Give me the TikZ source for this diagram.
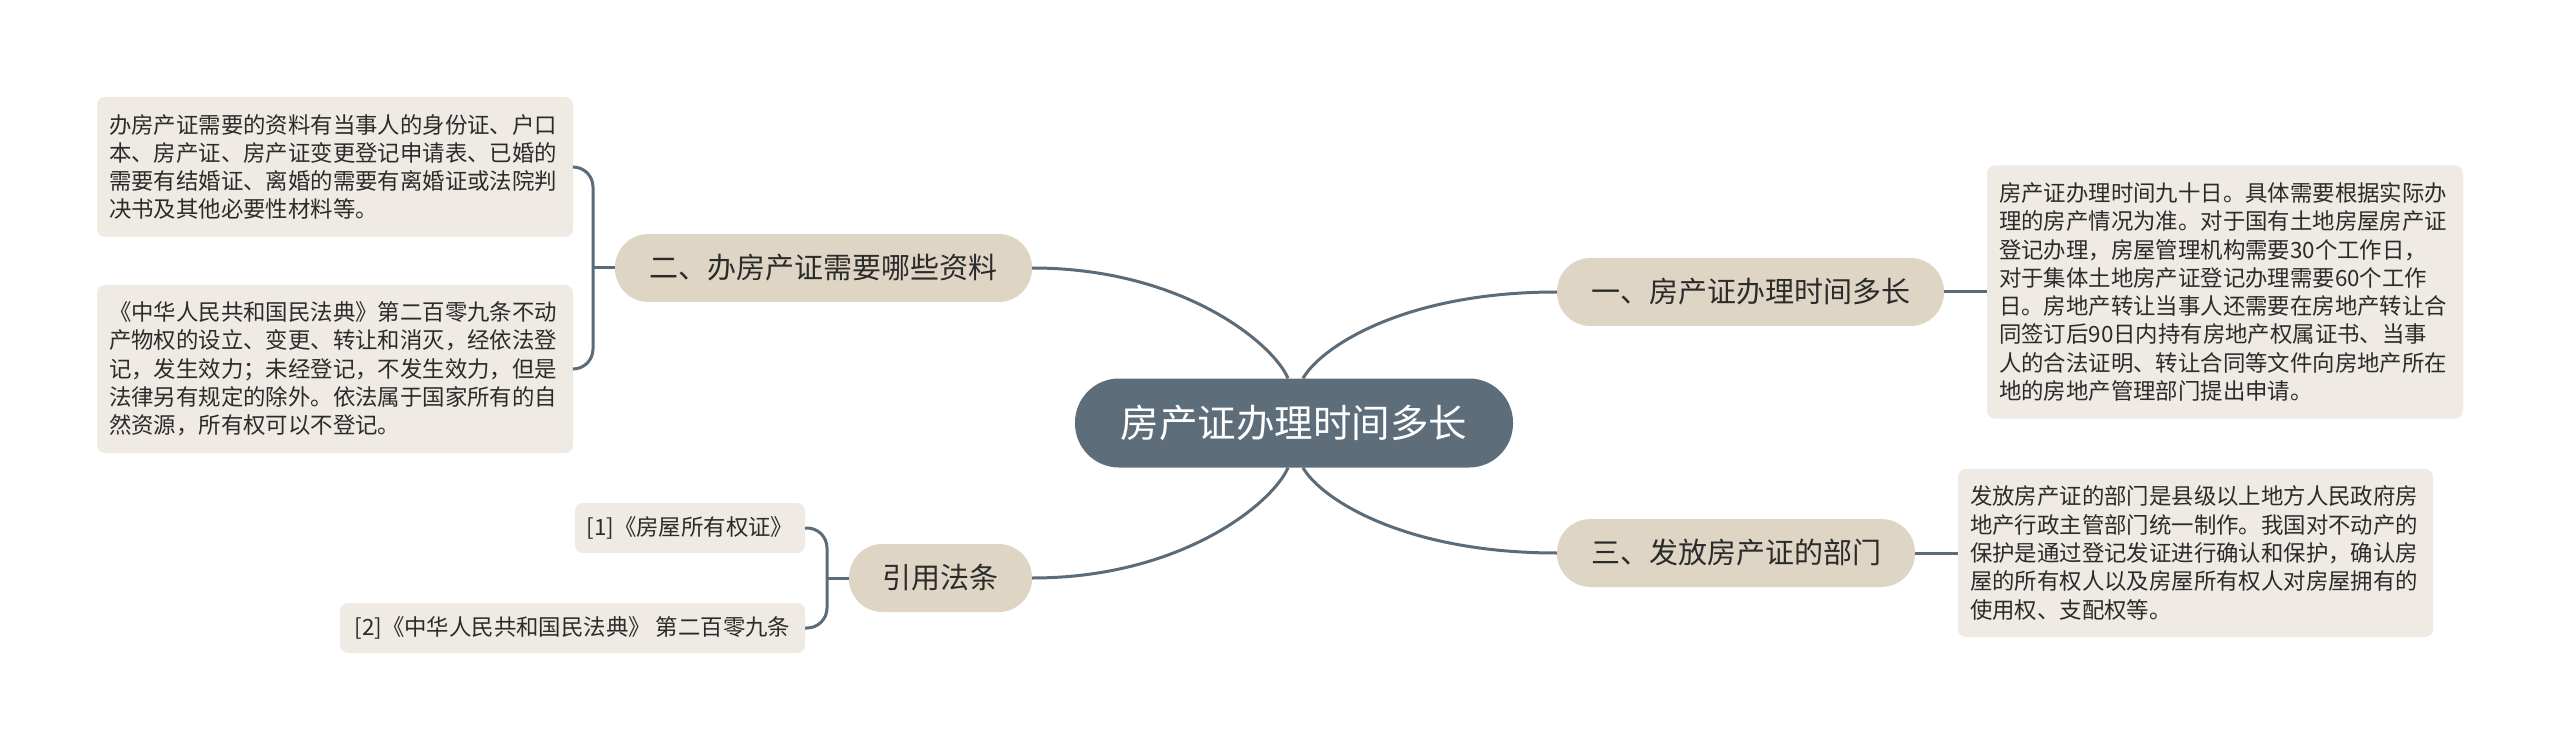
\documentclass[tikz,border=0pt]{standalone}
\usepackage{fontspec}
\newfontfamily\cjk{Noto Sans CJK SC}
\definecolor{centerfill}{HTML}{5D6D7A}
\definecolor{branchfill}{HTML}{DFD5C5}
\definecolor{leaffill}{HTML}{EFEBE4}
\definecolor{linecol}{HTML}{5B6B78}
\definecolor{txt}{HTML}{2B2B2B}
\begin{document}
\begin{tikzpicture}[x=1pt,y=-1pt,
 conn/.style={draw=linecol, line width=3pt},
 centernode/.style={fill=centerfill, rounded corners=44pt, minimum width=438pt, minimum height=89pt, inner sep=0pt, text=white, font=\cjk\fontsize{38.5}{44}\selectfont},
 branch/.style={fill=branchfill, rounded corners=33.5pt, minimum height=68pt, inner sep=0pt, text=txt, font=\cjk\fontsize{29}{34}\selectfont},
 leaf/.style={fill=leaffill, rounded corners=8pt, inner sep=0pt, text=txt, align=left, font=\cjk\fontsize{22.4}{28.3}\selectfont},
 refleaf/.style={fill=leaffill, rounded corners=8pt, inner sep=0pt, text=txt, minimum height=50pt, font=\cjk\fontsize{22.4}{28.3}\selectfont},
]
\fill[white] (0,0) rectangle (2560,751);
\useasboundingbox (0,0) rectangle (2560,751);

\node[centernode] (C) at (1294,423) {房产证办理时间多长};

\node[branch, minimum width=387pt] (B1) at (1750.5,292) {一、房产证办理时间多长};
\node[branch, minimum width=417pt] (B2) at (823.5,268) {二、办房产证需要哪些资料};
\node[branch, minimum width=358pt] (B3) at (1736,553) {三、发放房产证的部门};
\node[branch, minimum width=183pt] (B4) at (940.5,578) {引用法条};

\node[leaf, text width=452pt, minimum width=476pt, minimum height=140pt] (L1) at (335,167) {办房产证需要的资料有当事人的身份证、户口\\
本、房产证、房产证变更登记申请表、已婚的\\
需要有结婚证、离婚的需要有离婚证或法院判\\
决书及其他必要性材料等。};

\node[leaf, text width=452pt, minimum width=476pt, minimum height=168pt] (L2) at (335,369) {《中华人民共和国民法典》第二百零九条不动\\
产物权的设立、变更、转让和消灭，经依法登\\
记，发生效力；未经登记，不发生效力，但是\\
法律另有规定的除外。依法属于国家所有的自\\
然资源，所有权可以不登记。};

\node[leaf, text width=452pt, minimum width=476pt, minimum height=253pt] (R1) at (2225,292) {房产证办理时间九十日。具体需要根据实际办\\
理的房产情况为准。对于国有土地房屋房产证\\
登记办理，房屋管理机构需要30个工作日，\\
对于集体土地房产证登记办理需要60个工作\\
日。房地产转让当事人还需要在房地产转让合\\
同签订后90日内持有房地产权属证书、当事\\
人的合法证明、转让合同等文件向房地产所在\\
地的房地产管理部门提出申请。};

\node[leaf, text width=451pt, minimum width=475pt, minimum height=168pt] (R2) at (2195.5,553) {发放房产证的部门是县级以上地方人民政府房\\
地产行政主管部门统一制作。我国对不动产的\\
保护是通过登记发证进行确认和保护，确认房\\
屋的所有权人以及房屋所有权人对房屋拥有的\\
使用权、支配权等。};

\node[refleaf, minimum width=230pt] (F1) at (690,528) {[1]《房屋所有权证》};
\node[refleaf, minimum width=465pt] (F2) at (572.5,628) {[2]《中华人民共和国民法典》 第二百零九条};

% center connectors
\draw[conn] ([xshift=-6pt]C.north) .. controls +(-15,-35) and +(150,0) .. (B2.east);
\draw[conn] ([xshift=9pt]C.north) .. controls +(17,-30) and +(-155,0) .. (B1.west);
\draw[conn] ([xshift=-6pt]C.south) .. controls +(-15,35) and +(150,0) .. (B4.east);
\draw[conn] ([xshift=9pt]C.south) .. controls +(17,30) and +(-155,0) .. (B3.west);

% brackets
\coordinate (j2) at (593,268);
\draw[conn] (B2.west) -- (j2);
\draw[conn, rounded corners=20pt] (L1.east) -| (j2) |- (L2.east);

\coordinate (j4) at (827,578);
\draw[conn] (B4.west) -- (j4);
\draw[conn, rounded corners=20pt] (F1.east) -| (j4) |- (F2.east);

% right side
\draw[conn] (B1.east) -- (R1.west);
\draw[conn] (B3.east) -- (R2.west);
\end{tikzpicture}
\end{document}
